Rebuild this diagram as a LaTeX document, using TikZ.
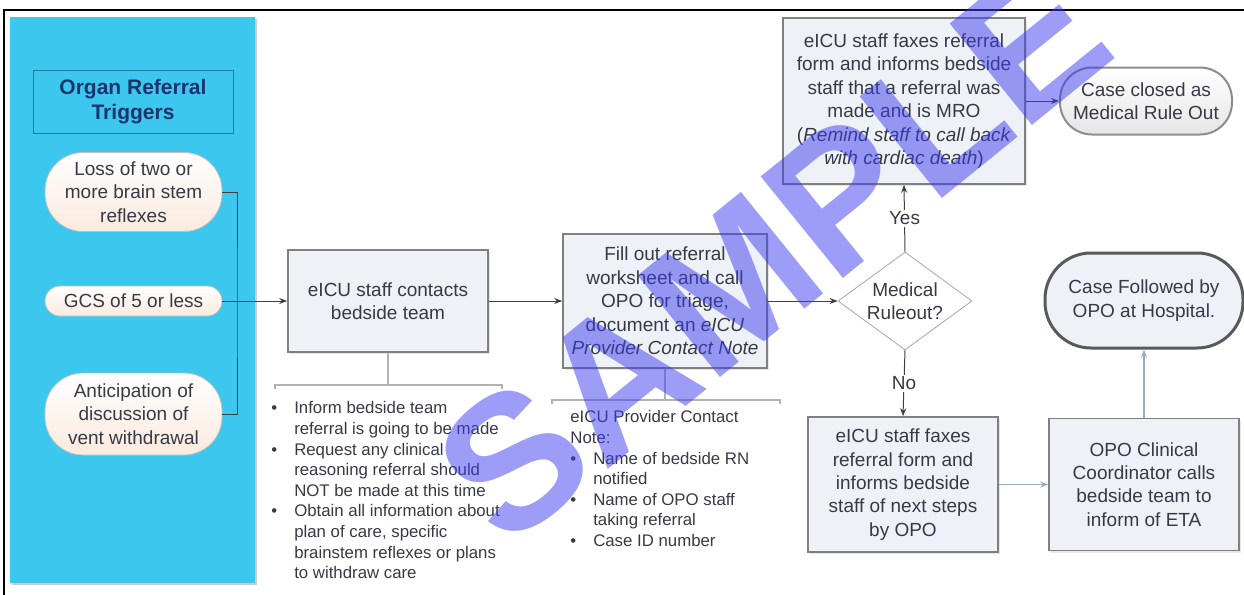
\documentclass[tikz,border=0pt]{standalone}
\usepackage{fontspec}
\setmainfont{Liberation Sans}
\usetikzlibrary{shapes.geometric,arrows.meta,shadows}

\definecolor{panelblue}{RGB}{60,200,238}
\definecolor{titleline}{RGB}{42,120,165}
\definecolor{titletext}{RGB}{28,52,110}
\definecolor{boxfill}{RGB}{238,242,246}
\definecolor{boxline}{RGB}{128,128,128}
\definecolor{inktext}{RGB}{55,58,70}
\definecolor{pillpeach}{RGB}{250,234,222}
\definecolor{paleline}{RGB}{150,175,195}
\definecolor{stampblue}{RGB}{60,60,240}

\newcommand{\boxfont}{\fontsize{9.5}{11.7}\selectfont}
\newcommand{\notefont}{\fontsize{8.4}{10.3}\selectfont}

\begin{document}
\begin{tikzpicture}[x=0.5pt,y=-0.5pt,
  procbox/.style={rectangle,draw=boxline,line width=0.8pt,fill=boxfill,text=inktext,font=\boxfont,align=center,inner sep=0pt,drop shadow={shadow xshift=1pt,shadow yshift=-1pt,opacity=0.2}},
  trigpill/.style={rectangle,draw=black!25,top color=white,bottom color=pillpeach,text=inktext,font=\boxfont,align=center,minimum width=88.5pt,inner sep=0pt},
  endpill/.style={rectangle,text=inktext,font=\boxfont,align=center,inner sep=0pt},
  decision/.style={diamond,aspect=1.37,draw=black!35,fill=white,text=inktext,font=\boxfont,align=center,inner sep=0pt,minimum width=67pt,minimum height=49pt},
  flowarrow/.style={draw=black!75,line width=0.5pt,-{Stealth[length=4pt,width=3pt]}},
  palearrow/.style={draw=paleline,line width=0.6pt,-{Stealth[length=4pt,width=3pt]}},
  bracket/.style={draw=black!30,line width=0.6pt},
  branch/.style={fill=white,inner sep=1pt,text=inktext,font=\boxfont}]
\useasboundingbox (0,0) rectangle (1244,595);
\draw[line width=1.2pt] (4,600) -- (4,10) -- (1248,10);
\fill[black!20] (12,19) rectangle (257,585);
\fill[panelblue] (10,17) rectangle (255,583);

\node[rectangle,draw=titleline,fill=panelblue,text=titletext,font=\fontsize{10.5}{12.5}\selectfont\bfseries,align=center,minimum width=100pt,minimum height=31.5pt] (title) at (133,101.5) {Organ Referral\\Triggers};
\node[trigpill,minimum height=39.5pt,rounded corners=19pt] (loss) at (133.5,192) {Loss of two or\\more brain stem\\reflexes};
\node[trigpill,minimum height=15pt,rounded corners=7.5pt] (gcs) at (133.5,301) {GCS of 5 or less};
\node[trigpill,minimum height=41pt,rounded corners=19pt] (antic) at (133.5,414) {Anticipation of\\discussion of\\vent withdrawal};

\node[procbox,minimum width=100pt,minimum height=51pt] (contact) at (388,301) {eICU staff contacts\\bedside team};
\node[procbox,minimum width=102pt,minimum height=67pt] (fillout) at (665,301) {Fill out referral\\worksheet and call\\OPO for triage,\\document an \textit{eICU}\\\textit{Provider Contact Note}};
\node[decision] (ruleout) at (905,301) {Medical\\Ruleout?};
\node[procbox,minimum width=121pt,minimum height=83pt] (mro) at (904,101) {eICU staff faxes referral\\form and informs bedside\\staff that a referral was\\made and is MRO\\(\textit{Remind staff to call back}\\\textit{with cardiac death})};
\node[endpill,draw=black!45,line width=1pt,top color=white,bottom color=black!10,minimum width=86pt,minimum height=33.5pt,rounded corners=16pt] (closed) at (1146,101) {Case closed as\\Medical Rule Out};
\node[procbox,minimum width=95pt,minimum height=67.5pt] (nextsteps) at (903,484.5) {eICU staff faxes\\referral form and\\informs bedside\\staff of next steps\\by OPO};
\node[procbox,minimum width=95pt,minimum height=66pt] (opo) at (1144,484.5) {OPO Clinical\\Coordinator calls\\bedside team to\\inform of ETA};
\node[endpill,draw=black!65,line width=1.5pt,fill=boxfill,minimum width=99pt,minimum height=47.5pt,rounded corners=23pt] (followed) at (1144,300.5) {Case Followed by\\OPO at Hospital.};

\node[anchor=north west,inner sep=0pt,text=inktext,font=\notefont] (tasks) at (271,399) {\begin{tabular}{@{}l@{\hspace{8.5pt}}l@{}}
\textbullet & Inform bedside team\\
 & referral is going to be made\\
\textbullet & Request any clinical\\
 & reasoning referral should\\
 & NOT be made at this time\\
\textbullet & Obtain all information about\\
 & plan of care, specific\\
 & brainstem reflexes or plans\\
 & to withdraw care
\end{tabular}};
\node[anchor=north west,inner sep=0pt,text=inktext,font=\notefont] (notes) at (570,408) {\begin{tabular}{@{}l@{\hspace{8.5pt}}l@{}}
\multicolumn{2}{@{}l@{}}{eICU Provider Contact}\\
\multicolumn{2}{@{}l@{}}{Note:}\\
\textbullet & Name of bedside RN\\
 & notified\\
\textbullet & Name of OPO staff\\
 & taking referral\\
\textbullet & Case ID number
\end{tabular}};

\coordinate (joint) at (237,301);
\coordinate (tasksL) at (275,385);
\coordinate (tasksR) at (502,385);
\coordinate (notesL) at (552,400);
\coordinate (notesR) at (780,400);

\draw[black!75,line width=0.5pt] (loss.east) -| (joint) |- (antic.east);
\draw[flowarrow] (gcs.east) -- (contact.west);
\draw[flowarrow] (contact.east) -- (fillout.west);
\draw[flowarrow] (fillout.east) -- (ruleout.west);
\draw[flowarrow] (ruleout.north) -- node[branch] {Yes} (mro.south);
\draw[flowarrow] (ruleout.south) -- node[branch] {No} (nextsteps.north);
\draw[flowarrow] (mro.east) -- (closed.west);
\draw[palearrow] (nextsteps.east) -- (opo.west);
\draw[palearrow] (opo.north) -- (followed.south);

\draw[bracket] (contact.south) -- (contact.south |- tasksL);
\draw[bracket] ([yshift=-2pt]tasksL) -- (tasksL) -- (tasksR) -- ([yshift=-2pt]tasksR);
\draw[bracket] (fillout.south) -- (fillout.south |- notesL);
\draw[bracket] ([yshift=-2pt]notesL) -- (notesL) -- (notesR) -- ([yshift=-2pt]notesR);

\node[rotate=39,text=stampblue,text opacity=0.5,font=\fontsize{95}{95}\selectfont\bfseries] (stamp) at (772,252) {SAMPLE};
\end{tikzpicture}
\end{document}
